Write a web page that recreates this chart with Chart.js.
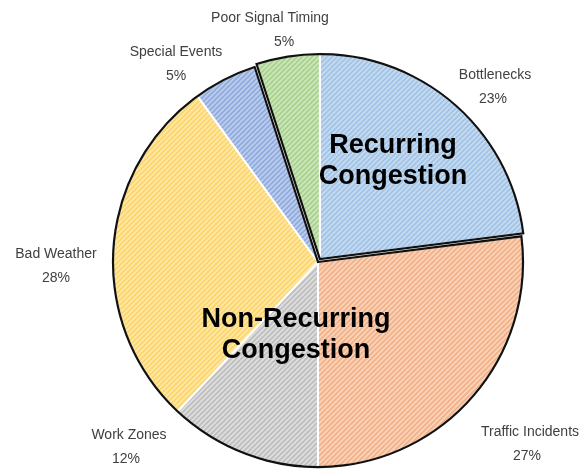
<!DOCTYPE html>
<html>
<head>
<meta charset="utf-8">
<style>
  html, body { margin: 0; padding: 0; background: #fff; }
  #wrap { width: 584px; height: 471px; }
</style>
<script src="https://cdn.jsdelivr.net/npm/chart.js@4.4.1/dist/chart.umd.min.js"></script>
</head>
<body>
<div id="wrap"><canvas id="pie" width="584" height="471"></canvas></div>
<script>
// data, clockwise from 12 o'clock
const categories = ['Bottlenecks', 'Traffic Incidents', 'Work Zones', 'Bad Weather', 'Special Events', 'Poor Signal Timing'];
const shares = [23, 27, 12, 28, 5, 5];
// which group each slice belongs to (0 = recurring, 1 = non-recurring)
const groupOf = [0, 1, 1, 1, 1, 0];
const groupNames = [['Recurring', 'Congestion'], ['Non-Recurring', 'Congestion']];

// fill colours: [base, hatch line]
const sliceColors = [
    ['#c8dcf0', '#9ec2e6'],
    ['#fad3b8', '#f2b088'],
    ['#dedede', '#bdbdbd'],
    ['#ffe8a6', '#fcd46a'],
    ['#bccdec', '#8faadc'],
    ['#cfe7bf', '#a6d08a']
];

// label placement (text only)
const labelPos = [
    { x: 495, y: 75, dx2: -2 },
    { x: 530, y: 432, dx2: -3 },
    { x: 129, y: 435, dx2: -3 },
    { x: 56, y: 254, dx2: 0 },
    { x: 176, y: 52, dx2: 0 },
    { x: 270, y: 18, dx2: 14 }
];
const groupTextPos = [{ x: 393, y: 146 }, { x: 296, y: 320 }];
const groupShift = [3.5, 0];

const hatch = (base, line) => {
    const s = 5;
    const c = document.createElement('canvas');
    c.width = s; c.height = s;
    const g = c.getContext('2d');
    g.fillStyle = base;
    g.fillRect(0, 0, s, s);
    g.strokeStyle = line;
    g.lineWidth = 1.6;
    g.beginPath();
    g.moveTo(0, s); g.lineTo(s, 0);
    g.moveTo(-1, 1); g.lineTo(1, -1);
    g.moveTo(s - 1, s + 1); g.lineTo(s + 1, s - 1);
    g.stroke();
    return g.createPattern(c, 'repeat');
};

const ctx0 = document.getElementById('pie').getContext('2d');
const fills = sliceColors.map(c => hatch(c[0], c[1]));

// arc span of a group, taken from the library's own arc elements
const groupSpan = (meta, g) => {
    const idx = groupOf.map((v, i) => v === g ? i : -1).filter(i => i >= 0);
    // the span starts at the slice whose predecessor is in another group
    const first = idx.find(i => groupOf[(i + groupOf.length - 1) % groupOf.length] !== g);
    const last = idx.find(i => groupOf[(i + 1) % groupOf.length] !== g);
    let start = meta.data[first].startAngle;
    let end = meta.data[last].endAngle;
    while (end <= start) end += Math.PI * 2;
    return { start, end };
};

const groupPlugin = {
    id: 'groups',
    beforeDatasetDraw(chart, args) {
        const meta = args.meta;
        const ctx = chart.ctx;
        const spans = [0, 1].map(g => groupSpan(meta, g));
        const shifts = spans.map((sp, g) => {
            const mid = (sp.start + sp.end) / 2;
            return { dx: Math.cos(mid) * groupShift[g], dy: Math.sin(mid) * groupShift[g] };
        });
        meta.data.forEach((arc, i) => {
            const sh = shifts[groupOf[i]];
            ctx.save();
            ctx.translate(sh.dx, sh.dy);
            arc.draw(ctx);
            ctx.restore();
        });
        spans.forEach((sp, g) => {
            const a = meta.data[groupOf.indexOf(g)];
            const cx = a.x + shifts[g].dx, cy = a.y + shifts[g].dy;
            ctx.save();
            ctx.beginPath();
            ctx.moveTo(cx, cy);
            ctx.arc(cx, cy, a.outerRadius, sp.start, sp.end);
            ctx.closePath();
            ctx.lineWidth = 2.2;
            ctx.lineJoin = 'miter';
            ctx.strokeStyle = '#111';
            ctx.stroke();
            ctx.restore();
        });
        return false;
    },
    afterDraw(chart) {
        const ctx = chart.ctx;
        ctx.save();
        ctx.textAlign = 'center';
        ctx.textBaseline = 'middle';
        ctx.fillStyle = '#404040';
        ctx.font = '14px "Liberation Sans", Arial, sans-serif';
        categories.forEach((name, i) => {
            const p = labelPos[i];
            ctx.fillText(name, p.x, p.y);
            ctx.fillText(shares[i] + '%', p.x + p.dx2, p.y + 24);
        });
        ctx.fillStyle = '#000';
        ctx.font = 'bold 27px "Liberation Sans", Arial, sans-serif';
        groupNames.forEach((lines, g) => {
            const p = groupTextPos[g];
            ctx.fillText(lines[0], p.x, p.y);
            ctx.fillText(lines[1], p.x, p.y + 31);
        });
        ctx.restore();
    }
};

new Chart(ctx0, {
    type: 'pie',
    data: {
        labels: categories,
        datasets: [{
            data: shares,
            backgroundColor: fills,
            borderColor: '#ffffff',
            borderWidth: 2,
            offset: 0
        }]
    },
    options: {
        responsive: false,
        animation: false,
        layout: { padding: { left: 112, right: 60, top: 56, bottom: 3 } },
        plugins: { legend: { display: false }, tooltip: { enabled: false } }
    },
    plugins: [groupPlugin]
});
</script>
</body>
</html>
